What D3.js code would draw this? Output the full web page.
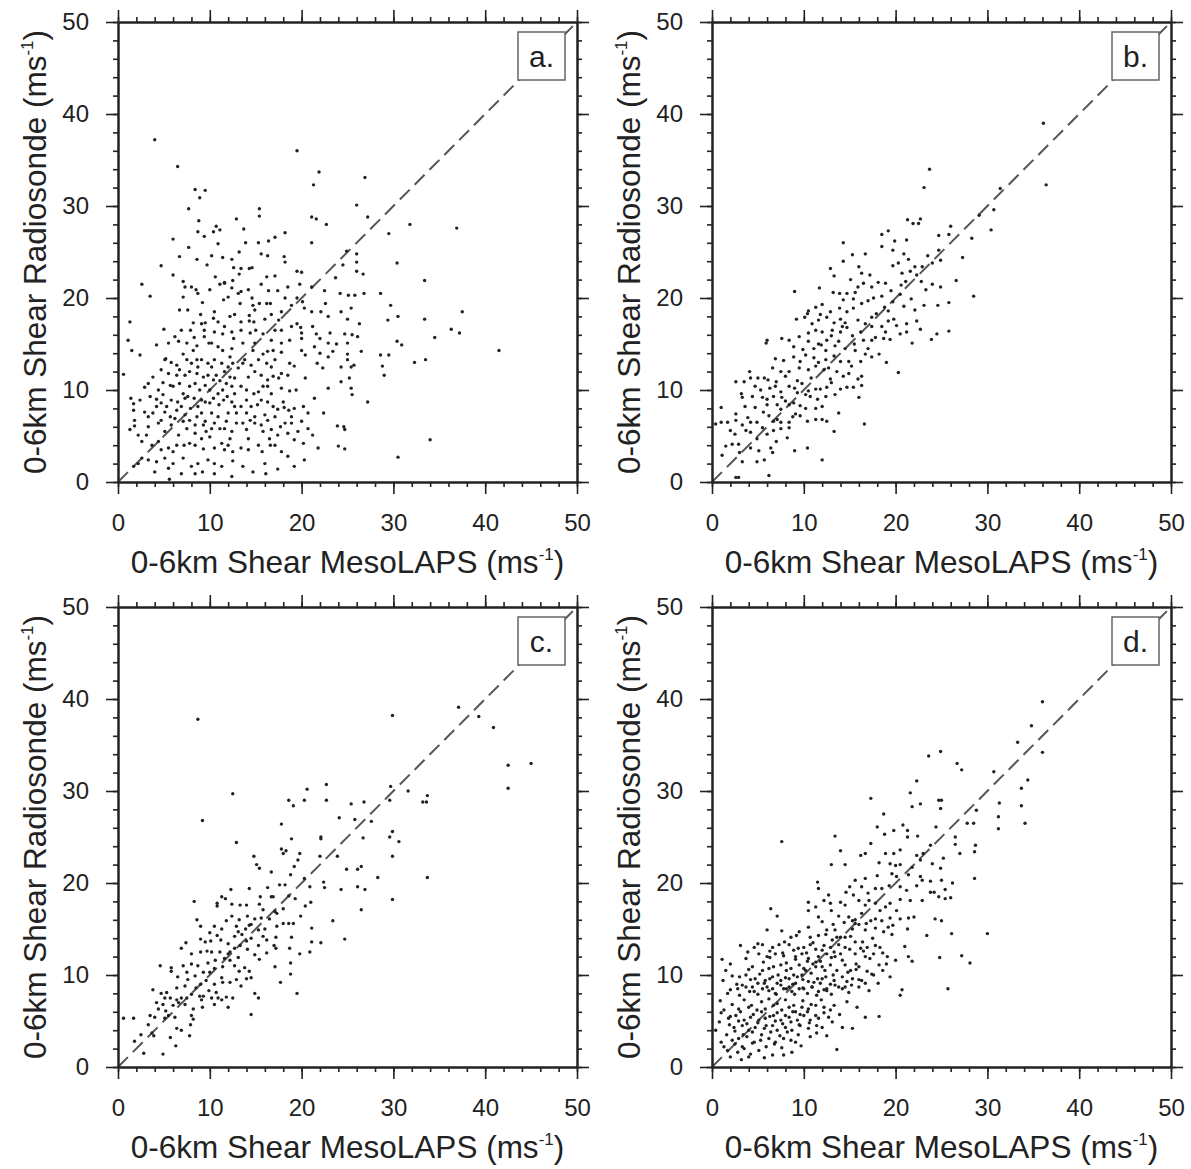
<!DOCTYPE html>
<html><head><meta charset="utf-8">
<script src="https://cdn.jsdelivr.net/npm/d3@7"></script>
<style>body{margin:0;background:#fff}</style>
</head><body>
<svg id="chart" width="1191" height="1169"></svg>
<script>
// ---------- data ----------
const panelLabels = ["a.", "b.", "c.", "d."];
const axisDomain = [0, 50];
const majorTicks = [0, 10, 20, 30, 40, 50];
const minorTicks = [0,2,4,6,8,10,12,14,16,18,20,22,24,26,28,30,32,34,36,38,40,42,44,46,48,50];
const xTitle = "0-6km Shear MesoLAPS (ms";
const yTitle = "0-6km Shear Radiosonde (ms";
const unitSup = "-1";
const oneToOne = [[0, 0], [50, 50]];

const panelA = [[4.0,37.2],[19.5,36.0],[6.5,34.3],[21.9,33.7],[26.9,33.1],[21.3,32.3],[8.4,31.8],[9.5,31.7],[8.9,30.9],[26.0,30.1],[7.7,29.7],[15.4,29.7],[15.4,28.9],[21.1,28.8],[21.6,28.6],[8.8,28.4],[12.9,28.6],[27.2,28.8],[22.7,28.0],[31.8,28.0],[36.9,27.6],[13.7,27.5],[8.7,27.2],[9.4,26.7],[10.4,27.2],[10.7,27.8],[11.1,27.4],[18.2,27.1],[29.5,27.0],[6.0,26.4],[10.9,25.9],[13.9,26.0],[15.3,26.0],[16.4,26.2],[17.1,26.6],[21.1,26.0],[7.7,25.5],[6.7,24.5],[10.2,24.6],[11.4,24.4],[12.4,24.2],[13.2,25.0],[15.6,24.8],[16.3,24.6],[18.1,24.5],[18.2,23.9],[24.9,25.1],[26.0,24.8],[26.0,23.9],[4.7,23.5],[8.6,24.2],[9.7,23.6],[12.6,23.3],[13.4,23.2],[14.3,23.2],[14.6,23.3],[19.5,22.9],[20.0,22.8],[24.5,23.6],[26.0,22.9],[26.7,22.6],[30.4,23.8],[6.0,22.5],[10.6,22.3],[11.6,21.7],[12.5,21.9],[13.2,22.6],[16.2,22.3],[17.1,22.4],[23.7,22.2],[33.4,21.9],[2.6,21.5],[7.1,21.8],[7.3,21.2],[8.5,20.9],[8.7,20.5],[11.1,21.5],[11.6,21.6],[15.6,21.5],[16.4,20.8],[17.4,20.8],[16.6,19.4],[19.8,21.5],[22.5,20.8],[24.2,20.5],[25.1,20.3],[25.8,20.3],[26.8,20.5],[28.6,20.5],[3.5,20.2],[7.1,20.1],[9.2,19.5],[11.5,19.8],[13.1,20.5],[13.4,20.7],[14.6,20.0],[14.7,19.2],[15.4,19.4],[16.2,19.4],[18.2,20.0],[18.9,19.2],[19.5,20.0],[20.1,19.6],[20.3,18.9],[22.6,19.4],[24.3,18.5],[25.4,18.9],[29.7,19.2],[37.5,18.5],[30.5,18.0],[6.7,18.7],[7.6,18.7],[9.0,18.2],[10.5,18.5],[10.4,17.8],[12.2,18.0],[12.7,18.2],[14.3,18.1],[16.0,17.7],[16.7,18.2],[22.1,18.5],[1.3,17.4],[5.0,16.6],[8.2,17.3],[9.5,17.3],[13.4,17.4],[14.3,17.5],[14.8,17.4],[17.5,17.6],[17.8,16.5],[19.5,17.2],[19.9,16.8],[25.0,17.7],[26.3,17.2],[29.4,17.6],[33.4,17.7],[36.3,16.6],[37.2,16.2],[1.1,15.4],[1.5,14.3],[4.2,14.9],[5.5,15.1],[6.6,15.3],[7.9,16.5],[8.3,15.7],[8.6,14.8],[9.4,16.5],[9.4,15.8],[9.9,15.1],[10.5,16.3],[11.4,16.1],[12.4,16.3],[12.6,15.6],[15.0,16.5],[15.8,16.1],[18.7,15.4],[20.0,15.6],[21.6,16.1],[22.0,15.6],[23.1,16.2],[24.7,16.1],[25.5,16.0],[23.8,15.0],[30.4,15.3],[30.9,14.9],[34.5,15.7],[2.4,13.8],[5.2,13.4],[5.8,13.0],[7.1,13.9],[8.2,14.3],[8.6,13.3],[11.4,14.3],[12.2,13.6],[12.4,14.5],[14.7,14.3],[15.8,13.9],[16.3,14.2],[16.9,14.3],[17.8,14.1],[20.4,13.8],[22.0,14.0],[22.9,13.6],[23.4,14.2],[25.0,13.9],[25.0,13.3],[26.5,14.2],[28.6,13.8],[29.5,13.8],[32.3,13.0],[33.5,13.3],[0.6,11.7],[4.7,12.2],[3.8,11.4],[6.7,12.2],[7.3,11.6],[9.3,11.4],[10.2,12.5],[10.7,11.6],[13.1,12.4],[13.6,12.9],[14.5,12.7],[15.6,11.6],[16.9,11.5],[17.8,11.8],[19.2,12.6],[21.7,12.9],[22.3,12.4],[24.3,12.5],[25.4,12.5],[25.7,12.7],[28.8,12.6],[29.0,11.6],[2.9,10.3],[4.9,10.8],[4.4,10.0],[5.7,10.5],[7.1,9.6],[7.8,10.4],[8.9,10.0],[10.4,11.1],[11.1,11.0],[11.8,10.7],[11.4,10.0],[12.4,10.4],[14.0,10.0],[14.8,9.6],[15.8,10.4],[16.3,10.4],[17.5,11.3],[17.8,10.2],[18.7,9.9],[20.4,11.3],[22.9,10.2],[24.3,10.9],[25.2,11.3],[25.4,10.2],[25.5,9.5],[1.4,9.1],[1.7,8.5],[1.7,7.8],[3.5,9.3],[4.2,9.0],[4.9,9.5],[4.2,8.2],[5.3,8.2],[6.5,8.7],[7.3,9.1],[8.3,9.1],[7.9,8.0],[8.7,8.2],[9.5,8.7],[10.4,9.1],[11.0,8.4],[11.9,9.3],[12.7,8.2],[12.9,7.5],[14.0,8.9],[14.5,8.2],[15.2,8.4],[16.3,8.7],[16.9,8.2],[17.4,7.9],[18.1,8.1],[18.6,7.8],[20.2,8.2],[21.4,9.1],[22.4,7.5],[27.2,8.7],[1.8,6.1],[1.3,5.7],[3.3,7.1],[3.3,6.0],[4.4,6.4],[5.7,7.1],[5.8,6.2],[7.1,6.6],[7.5,5.8],[8.6,7.1],[8.4,6.2],[9.5,6.6],[9.6,5.5],[10.5,6.4],[11.1,5.8],[11.8,6.6],[12.4,5.5],[13.6,6.4],[14.0,5.7],[14.9,6.4],[16.3,6.7],[16.7,5.7],[17.7,6.0],[18.9,6.4],[19.6,5.5],[20.7,5.8],[23.9,6.1],[24.6,6.0],[24.7,5.7],[21.2,5.1],[2.2,5.1],[2.6,4.4],[3.7,4.0],[4.4,4.4],[5.5,3.7],[6.0,3.3],[7.2,4.0],[7.8,4.2],[9.1,4.7],[9.3,3.6],[11.3,4.2],[11.6,3.5],[12.5,3.3],[13.4,3.7],[15.3,4.0],[15.7,3.3],[16.5,4.7],[16.6,4.0],[17.8,3.3],[17.4,5.1],[20.2,4.2],[21.8,3.7],[24.0,3.9],[24.7,3.6],[34.0,4.6],[2.6,2.6],[2.2,2.0],[1.7,1.7],[4.2,2.2],[5.5,1.5],[7.1,2.6],[8.0,1.7],[8.7,2.0],[9.2,1.1],[8.4,0.9],[10.5,2.0],[12.5,2.3],[13.6,1.7],[14.7,1.1],[16.1,0.9],[17.4,1.4],[18.5,2.8],[20.3,2.4],[30.5,2.7],[5.6,0.3],[41.5,14.3],
[5.1,13.3],[6.4,12.7],[7.5,13.3],[8.0,12.9],[9.1,13.3],[8.7,12.5],[9.8,12.9],[10.5,13.3],[11.3,12.9],[12.0,12.5],[12.5,12.9],[13.8,13.3],[15.3,13.3],[16.2,12.9],[16.7,12.5],[17.1,13.3],[18.7,12.9],[5.5,11.8],[6.4,11.6],[7.8,12.0],[8.6,11.8],[9.8,11.6],[11.6,12.0],[12.2,11.4],[12.7,11.3],[14.2,11.4],[14.9,12.0],[16.3,11.1],[18.5,11.6],[3.3,10.7],[6.0,10.4],[6.7,10.7],[8.4,10.7],[9.5,10.5],[10.0,10.0],[10.9,9.6],[12.7,9.6],[13.4,10.4],[15.3,9.8],[16.7,9.6],[19.4,10.0],[2.4,8.9],[4.7,8.6],[5.8,8.9],[6.9,8.2],[7.6,9.3],[9.1,8.9],[10.0,8.6],[11.5,8.9],[12.4,8.7],[13.4,8.2],[15.6,8.9],[18.0,8.7],[19.2,8.0],[2.9,7.6],[3.8,7.5],[5.1,7.6],[6.4,7.8],[7.3,7.3],[9.1,7.5],[10.2,7.5],[10.9,7.1],[12.0,7.5],[14.0,7.5],[14.9,7.1],[16.0,7.3],[17.1,7.1],[18.9,7.1],[20.7,7.5],[1.8,6.7],[4.7,6.7],[6.2,6.9],[7.8,6.7],[9.3,6.2],[10.2,5.8],[11.6,5.8],[12.9,6.4],[14.4,6.7],[15.6,6.2],[18.2,6.4],[20.0,6.6],[3.1,5.1],[5.1,5.5],[6.6,5.1],[8.4,5.3],[10.0,4.9],[12.2,4.7],[14.2,4.7],[15.8,5.5],[18.5,5.3],[4.7,3.5],[6.4,4.0],[8.4,4.0],[10.5,3.7],[12.0,4.0],[14.2,3.5],[17.1,4.0],[19.2,4.6],[3.3,2.4],[5.1,2.6],[6.0,2.0],[9.8,2.4],[11.3,1.7],[16.0,2.0],[19.2,1.7],[4.0,1.1],[6.9,0.9],[10.5,0.9],[12.4,0.6],[8.0,21.2],[10.0,20.9],[12.4,21.1],[14.2,20.9],[18.5,21.2],[21.1,21.2],[12.0,20.1],[13.3,19.4],[14.9,18.7],[17.8,18.5],[21.1,18.5],[22.9,18.0],[9.1,17.2],[10.9,17.4],[11.6,16.9],[13.4,16.5],[14.4,16.2],[17.1,16.5],[18.9,16.9],[20.0,16.2],[21.2,16.9],[6.9,16.5],[6.2,15.8],[7.5,15.1],[10.2,15.1],[10.9,14.7],[13.6,15.1],[14.9,15.1],[16.7,15.4],[17.8,15.1],[20.0,14.3],[21.4,14.7],[22.9,15.1],[25.0,15.1],[26.1,15.8]];

const panelB = [[36.1,39.0],[36.4,32.3],[23.7,34.0],[23.1,32.0],[31.4,31.9],[30.7,29.6],[29.1,29.0],[30.4,27.4],[21.3,28.5],[21.9,28.1],[22.5,28.1],[22.7,28.6],[26.0,27.8],[24.7,26.8],[25.8,26.9],[28.3,26.5],[18.5,26.9],[19.2,27.3],[19.9,26.2],[21.2,26.3],[18.5,25.6],[14.3,26.0],[15.3,24.7],[16.7,24.8],[14.3,24.0],[19.7,25.2],[20.3,23.8],[19.7,23.5],[21.4,24.2],[22.1,23.4],[22.9,23.4],[21.6,22.9],[22.3,22.5],[24.7,25.2],[24.9,24.1],[24.0,23.8],[12.9,23.2],[13.3,22.4],[15.1,22.0],[16.3,22.7],[16.5,21.6],[17.4,21.2],[18.1,21.7],[18.9,21.6],[18.5,20.2],[17.6,20.0],[17.0,19.7],[21.1,21.8],[23.3,20.9],[24.0,21.5],[24.9,21.2],[20.5,20.4],[19.7,19.6],[9.0,20.7],[28.5,20.2],[13.2,20.6],[13.9,20.5],[14.7,20.5],[15.6,20.6],[15.4,19.9],[14.3,19.8],[16.3,19.4],[12.0,19.3],[11.3,19.0],[10.5,18.6],[10.4,18.3],[11.8,18.2],[12.5,17.9],[13.3,17.3],[14.0,17.7],[14.5,17.3],[14.7,18.5],[15.4,18.9],[17.4,17.9],[16.7,17.2],[17.4,16.9],[19.2,18.6],[19.8,17.7],[19.2,17.5],[18.5,16.9],[20.1,17.0],[20.9,19.1],[22.1,18.7],[21.2,17.2],[24.6,19.2],[25.8,19.5],[9.2,17.7],[10.1,17.9],[10.9,17.2],[11.3,16.5],[10.5,16.2],[12.0,16.3],[13.1,16.5],[14.0,16.3],[14.7,16.8],[15.3,15.9],[20.5,16.1],[21.2,16.3],[22.7,16.6],[24.5,16.1],[25.8,16.4],[23.9,15.5],[6.0,15.4],[5.9,15.1],[7.6,15.6],[8.4,15.4],[9.5,15.8],[10.5,15.3],[11.1,14.5],[11.6,15.0],[12.5,15.4],[12.4,14.3],[13.4,14.8],[13.8,15.3],[14.5,14.5],[15.5,15.0],[16.5,15.4],[17.4,15.4],[17.8,15.7],[18.7,15.6],[19.4,15.5],[21.8,15.1],[15.6,14.3],[16.7,13.9],[17.4,13.6],[18.2,13.9],[6.9,13.4],[7.8,13.2],[8.9,13.6],[9.6,13.1],[10.2,13.8],[11.1,13.5],[11.6,13.0],[12.4,13.3],[13.3,13.7],[14.0,13.1],[14.9,13.1],[16.2,13.1],[6.6,12.4],[7.5,12.0],[8.4,12.0],[9.5,12.4],[10.5,12.2],[11.3,12.6],[12.2,12.2],[12.7,12.4],[13.6,12.0],[14.3,11.5],[4.1,12.0],[5.0,11.3],[5.7,11.3],[6.1,11.1],[16.3,11.5],[15.9,11.2],[20.3,11.9],[2.6,10.9],[3.5,10.9],[4.2,11.3],[4.7,10.4],[4.4,9.3],[5.5,9.2],[6.3,10.2],[6.9,10.4],[7.5,9.8],[8.4,10.4],[9.0,10.2],[9.8,10.7],[10.5,9.9],[11.3,10.1],[11.8,10.1],[12.5,10.3],[14.0,10.1],[14.7,10.3],[15.4,10.3],[16.3,10.5],[3.2,9.6],[3.3,9.2],[6.7,9.3],[7.6,9.2],[9.3,9.7],[10.2,9.5],[10.7,9.3],[12.4,9.3],[13.4,9.5],[16.0,9.2],[3.6,8.2],[4.7,8.1],[6.0,8.4],[7.1,8.4],[7.5,7.9],[8.4,8.4],[8.9,8.6],[10.2,8.0],[11.3,8.0],[12.0,8.2],[13.8,7.5],[9.1,7.4],[9.6,7.2],[10.4,6.6],[11.3,6.8],[12.0,6.8],[12.5,6.6],[13.3,5.5],[1.0,8.1],[2.6,7.4],[2.6,6.7],[3.3,6.2],[4.2,6.5],[4.9,6.5],[6.2,7.2],[6.7,6.6],[7.1,6.8],[7.5,6.5],[8.4,6.5],[0.4,6.3],[1.0,6.5],[1.7,6.5],[16.6,6.3],[2.5,5.2],[3.7,5.6],[4.2,5.4],[5.5,5.9],[6.0,5.2],[6.7,5.6],[7.5,5.8],[8.4,5.9],[1.5,3.9],[2.2,4.1],[2.9,4.1],[4.2,3.7],[5.1,3.4],[6.4,3.7],[6.6,3.2],[8.2,4.8],[1.1,2.9],[3.3,2.2],[4.9,2.2],[5.7,2.4],[9.0,3.4],[10.4,3.7],[12.0,2.4],[2.6,0.5],[2.9,0.5],[6.2,0.7],
[11.9,14.9],[13.0,15.9],[14.2,16.9],[15.9,17.6],[16.2,16.3],[17.9,18.3],[18.8,19.0],[19.5,20.8],[20.6,21.4],[22.8,21.8],[23.5,24.6],[20.7,22.7],[17.2,22.5],[15.9,21.2],[13.9,18.9],[12.9,18.5],[11.6,17.6],[9.9,14.4],[8.9,14.7],[10.8,11.3],[12.9,11.2],[9.3,11.0],[8.0,11.5],[7.0,10.9],[5.3,10.0],[6.0,9.0],[8.0,8.8],[9.6,8.3],[11.5,9.0],[3.9,7.0],[5.6,7.6],[8.8,7.1],[2.0,5.6],[4.9,4.7],[7.0,4.4],[3.0,3.2],[14.9,11.8],[15.2,12.6],[13.0,10.8],[17.0,14.5],[18.9,16.3],[21.7,19.9],[23.1,19.2],[22.3,17.5],[26.6,21.9],[27.3,24.4],[20.9,24.8],[16.0,23.4],[11.7,21.1],[19.0,13.0]];

const panelC = [[8.7,37.8],[29.9,38.2],[9.2,26.8],[12.5,29.7],[12.9,24.4],[20.6,30.2],[22.7,30.7],[18.6,29.0],[19.1,28.4],[20.3,29.0],[22.7,29.0],[29.7,30.5],[31.6,30.0],[33.7,29.5],[33.2,28.8],[33.6,28.8],[25.4,28.6],[26.8,28.8],[29.6,29.0],[24.1,27.1],[25.8,26.9],[27.6,26.7],[17.8,26.4],[29.9,25.6],[29.6,25.0],[30.6,24.5],[29.9,22.9],[18.9,24.8],[22.1,25.0],[22.1,24.8],[26.7,24.9],[17.8,23.7],[18.0,23.2],[18.3,23.5],[19.8,23.2],[19.6,22.5],[19.2,21.8],[14.8,22.9],[15.1,22.0],[15.4,21.6],[22.0,22.9],[23.9,22.9],[24.9,21.5],[26.1,21.5],[26.5,21.8],[28.3,20.6],[33.7,20.6],[16.7,21.2],[18.8,20.9],[22.4,20.1],[22.5,19.5],[20.9,19.6],[24.3,19.3],[26.1,19.6],[26.9,19.3],[29.9,18.2],[26.5,17.1],[23.4,15.9],[24.7,13.9],[8.3,18.0],[12.3,19.3],[11.3,18.5],[11.7,18.3],[10.8,17.8],[10.8,17.5],[14.3,19.4],[15.5,18.5],[16.7,18.5],[16.9,18.5],[17.6,19.8],[18.2,19.8],[18.6,18.6],[19.3,18.3],[20.4,17.5],[21.0,17.9],[12.4,17.7],[13.3,17.6],[14.0,17.6],[15.4,17.7],[15.8,17.1],[17.1,16.9],[17.3,16.7],[8.6,16.0],[9.0,15.3],[10.5,15.3],[11.3,15.0],[12.4,16.4],[13.2,16.0],[14.1,16.4],[14.9,16.1],[15.6,16.2],[16.5,16.1],[14.3,15.4],[14.5,15.5],[15.3,14.9],[17.3,15.3],[18.0,15.6],[18.6,15.6],[19.1,15.6],[21.1,15.1],[7.4,13.5],[6.9,12.9],[9.0,13.9],[9.5,13.6],[10.1,13.7],[10.8,14.3],[11.2,13.8],[12.0,13.4],[12.7,14.2],[13.1,14.7],[13.5,14.4],[14.0,13.7],[14.5,14.0],[16.2,13.8],[17.2,14.1],[18.9,14.1],[21.1,13.6],[22.1,13.5],[8.0,12.3],[9.0,12.5],[9.7,12.6],[10.2,12.5],[11.1,12.5],[12.0,12.3],[12.2,12.5],[12.7,12.9],[13.3,13.2],[14.1,12.8],[15.3,13.2],[14.9,12.2],[15.4,11.7],[17.0,13.2],[17.2,12.9],[18.7,12.9],[19.8,12.3],[20.9,12.5],[4.6,11.0],[5.8,10.8],[5.8,10.4],[7.1,11.0],[7.5,10.3],[8.0,11.2],[8.7,11.0],[9.8,11.3],[10.0,10.3],[10.5,10.7],[11.4,10.9],[12.2,11.6],[12.7,11.0],[13.2,10.4],[13.8,10.8],[14.3,10.4],[17.1,10.9],[18.8,11.3],[18.8,10.1],[17.7,9.2],[7.6,9.5],[8.4,9.9],[9.0,9.0],[9.6,9.4],[10.5,9.0],[11.3,9.7],[11.4,9.2],[12.2,9.2],[12.9,9.5],[13.4,8.8],[14.0,9.6],[14.5,9.7],[3.8,8.4],[4.7,8.0],[5.3,8.1],[6.4,8.6],[7.3,8.8],[5.1,7.5],[5.7,7.5],[6.4,7.3],[6.9,7.5],[7.5,7.5],[8.0,7.9],[8.9,7.7],[9.1,7.3],[9.3,7.7],[10.2,7.5],[10.7,8.1],[10.9,7.5],[11.3,7.3],[11.8,7.6],[12.5,7.5],[14.9,8.0],[15.3,7.5],[19.5,8.0],[4.2,7.0],[4.9,6.8],[4.4,6.3],[6.0,6.7],[6.6,7.0],[7.3,6.8],[8.2,6.3],[9.2,6.5],[10.5,6.8],[12.0,6.5],[0.6,5.3],[1.7,5.3],[3.5,5.6],[4.0,5.4],[5.1,5.3],[5.5,5.6],[6.2,5.4],[8.0,5.6],[8.2,5.2],[14.5,5.7],[3.3,4.6],[3.7,3.7],[6.4,4.2],[6.9,4.0],[7.9,4.6],[7.8,3.4],[5.7,3.2],[1.8,2.8],[2.8,1.5],[4.9,1.4],[6.3,2.3],[3.9,3.4],[37.1,39.1],[39.3,38.1],[40.9,36.9],[42.5,32.8],[45.0,33.0],[42.5,30.3],
[10.0,14.6],[11.8,15.9],[12.9,15.3],[13.9,15.0],[16.0,15.0],[15.8,14.2],[11.6,11.8],[10.6,11.6],[9.3,10.3],[8.5,8.6],[9.9,8.3],[6.5,9.8],[5.2,6.1],[2.5,3.5],[16.3,19.5],[18.0,17.2],[19.9,16.4],[20.3,20.5],[13.1,11.9],[16.2,12.4]];

const panelD = [[36.0,39.7],[34.8,37.1],[33.3,35.3],[36.0,34.2],[24.9,34.3],[23.6,33.8],[26.7,33.0],[27.2,32.3],[30.7,32.1],[22.3,31.1],[34.4,31.2],[33.7,30.3],[21.6,29.8],[21.8,28.3],[22.7,28.6],[24.7,29.0],[25.0,29.0],[24.9,28.1],[17.3,29.2],[31.3,28.7],[33.7,28.4],[31.2,27.2],[34.1,26.5],[31.2,25.9],[18.7,27.5],[28.8,27.9],[27.8,26.5],[28.5,26.5],[18.0,26.1],[18.8,25.3],[19.8,25.7],[20.8,26.3],[21.3,25.7],[21.3,25.0],[22.4,25.1],[24.4,26.1],[7.6,24.5],[13.4,25.1],[17.3,24.3],[16.7,23.2],[16.2,23.0],[14.0,23.5],[13.0,22.0],[14.5,22.0],[23.8,24.1],[26.5,25.0],[26.5,24.2],[27.0,23.2],[28.7,24.1],[28.6,23.4],[18.9,23.2],[19.8,23.2],[20.5,23.6],[19.4,22.1],[20.0,21.9],[20.5,22.0],[18.2,22.2],[22.3,23.0],[23.0,23.2],[22.7,22.5],[25.2,22.7],[24.0,22.1],[24.9,21.6],[20.1,20.7],[21.4,20.9],[22.7,20.7],[22.9,20.3],[23.8,20.2],[25.0,20.3],[25.4,19.3],[28.6,20.5],[11.5,20.1],[11.6,19.4],[15.6,20.3],[16.3,19.6],[14.6,19.0],[15.4,18.7],[17.8,19.4],[18.5,19.4],[19.3,19.7],[21.2,19.2],[20.5,18.2],[21.6,18.1],[22.9,18.1],[23.8,19.0],[24.2,19.0],[24.7,18.5],[25.4,18.3],[10.5,17.9],[11.3,17.4],[10.5,17.0],[12.2,18.1],[12.9,17.8],[14.0,17.9],[14.5,17.6],[16.0,18.1],[16.7,17.6],[17.1,18.1],[17.8,17.8],[18.3,17.0],[18.9,17.4],[19.4,17.8],[20.1,17.0],[19.4,16.2],[6.4,17.2],[7.1,16.4],[11.6,16.3],[13.0,17.0],[13.8,16.4],[14.9,16.3],[15.6,16.0],[16.3,16.7],[17.3,15.9],[17.8,16.1],[15.3,15.9],[15.6,15.6],[20.5,16.1],[21.4,16.2],[22.0,16.3],[24.3,16.1],[25.0,15.9],[23.4,14.3],[26.1,14.5],[30.0,14.5],[6.0,14.9],[7.6,14.8],[8.6,14.1],[9.5,14.7],[10.5,15.2],[10.7,14.1],[11.6,14.3],[12.5,14.9],[13.4,14.9],[13.6,14.1],[14.0,14.1],[14.5,14.1],[15.3,15.0],[16.0,15.5],[16.7,14.9],[17.8,15.1],[18.7,14.7],[19.2,15.2],[3.1,13.2],[4.6,13.0],[5.5,13.3],[6.6,13.0],[7.3,13.3],[8.4,13.3],[8.9,12.7],[10.0,13.0],[10.7,13.3],[11.3,12.8],[12.2,13.2],[12.9,13.0],[13.8,13.3],[14.5,13.0],[15.6,13.6],[16.2,12.9],[16.9,13.0],[17.8,13.2],[18.3,13.0],[5.1,12.3],[6.0,12.0],[6.9,12.3],[7.8,12.1],[9.1,12.0],[9.8,12.3],[10.5,11.8],[11.6,12.0],[12.5,12.3],[13.4,12.0],[14.0,12.3],[15.6,12.3],[16.7,12.0],[17.6,12.3],[19.1,12.0],[20.0,11.6],[21.4,12.0],[27.2,12.1],[1.1,11.7],[4.4,10.9],[5.5,10.5],[6.7,10.9],[7.5,11.1],[8.6,10.7],[9.5,11.1],[10.2,10.5],[11.0,11.2],[11.3,10.9],[11.3,11.4],[12.0,10.9],[12.9,11.1],[13.6,10.5],[14.5,11.1],[15.1,10.5],[16.0,10.9],[16.9,10.4],[18.2,11.1],[28.1,11.3],[2.2,9.9],[3.7,10.0],[4.7,9.6],[5.8,9.4],[6.6,9.8],[7.5,9.4],[8.4,9.6],[9.3,9.8],[9.8,10.0],[10.5,9.3],[11.5,9.6],[12.4,9.8],[13.3,9.4],[14.2,9.8],[15.3,9.6],[16.3,9.4],[17.6,10.0],[19.4,9.8],[3.3,8.9],[4.4,8.7],[5.7,9.1],[6.6,8.5],[7.5,8.9],[8.4,8.7],[9.1,9.1],[10.0,8.5],[10.9,8.7],[11.8,9.1],[12.5,8.5],[13.4,8.9],[14.5,8.7],[15.2,8.9],[16.7,9.1],[20.7,8.4],[25.7,8.5],[1.7,8.0],[2.8,8.5],[3.7,8.7],[4.6,8.2],[5.5,8.5],[6.2,8.3],[6.9,8.0],[7.8,8.5],[8.7,8.2],[9.5,8.5],[10.4,8.0],[10.9,8.7],[11.6,8.2],[12.5,8.3],[13.8,8.7],[14.2,8.5],[16.0,8.7],[20.5,7.8],[1.3,6.2],[2.9,6.3],[4.0,6.5],[4.9,6.2],[5.8,6.3],[6.7,6.7],[7.6,6.2],[8.4,6.5],[9.1,6.0],[9.8,6.5],[10.5,6.3],[11.3,6.7],[12.2,6.5],[12.9,6.2],[15.8,6.5],[1.8,5.3],[2.6,5.6],[3.5,5.1],[4.2,5.4],[5.1,5.1],[5.8,5.3],[6.7,5.6],[7.5,5.1],[8.4,5.4],[9.3,5.1],[10.0,5.6],[10.7,5.1],[11.6,5.3],[12.7,5.4],[16.7,5.4],[18.2,5.5],[0.4,4.0],[2.4,4.3],[3.3,4.5],[4.0,4.0],[4.7,4.3],[5.7,4.2],[6.6,4.5],[7.1,4.0],[8.0,4.3],[8.7,4.0],[9.6,4.5],[10.5,4.2],[12.0,4.3],[14.2,4.3],[15.3,4.2],[1.0,2.7],[2.2,2.9],[2.9,3.1],[3.8,3.3],[4.6,2.7],[5.3,2.9],[6.2,3.1],[6.9,2.7],[7.8,3.1],[8.6,2.9],[9.1,2.7],[10.7,3.3],[2.8,1.6],[3.5,2.0],[4.2,1.4],[5.1,1.8],[7.8,1.3],[8.7,1.6],[13.6,1.9],[4.0,1.1],[1.7,1.8],
[7.9,13.6],[9.2,14.3],[11.0,13.5],[12.4,14.4],[13.1,13.8],[15.1,14.2],[16.4,13.6],[17.5,14.0],[19.6,14.4],[3.9,12.5],[5.0,13.4],[6.3,12.6],[7.7,12.4],[9.4,12.9],[10.3,12.4],[12.0,12.7],[13.3,12.5],[15.0,12.8],[16.5,12.6],[18.6,12.4],[21.0,13.1],[2.0,11.2],[3.7,11.8],[5.6,11.4],[6.3,11.9],[8.1,11.3],[9.1,11.7],[10.4,11.5],[11.8,11.5],[13.0,11.9],[14.2,11.6],[15.7,11.2],[17.2,11.8],[19.0,11.2],[21.8,11.5],[24.8,11.9],[1.5,10.5],[3.0,9.8],[4.0,10.6],[5.2,10.1],[6.2,10.7],[7.2,10.0],[8.1,10.5],[8.9,10.0],[10.0,10.7],[10.8,10.2],[12.3,10.5],[13.2,10.0],[14.8,10.3],[15.7,10.6],[17.4,10.1],[18.6,10.5],[1.2,9.4],[2.7,9.0],[4.2,9.5],[5.0,9.1],[6.3,9.6],[7.1,9.1],[8.0,9.7],[8.8,9.0],[9.9,9.5],[11.1,9.2],[12.0,9.6],[12.9,9.0],[14.7,9.3],[16.0,9.5],[18.1,9.1],[2.0,8.4],[3.0,7.8],[4.1,8.2],[5.0,7.9],[6.0,8.7],[7.0,7.9],[8.1,8.5],[9.0,7.9],[9.9,8.6],[11.4,7.8],[12.2,8.4],[13.0,7.9],[14.9,8.1],[17.1,8.3],[0.9,7.2],[2.2,6.8],[3.5,7.3],[4.3,6.7],[5.4,7.1],[6.2,7.4],[7.1,6.9],[8.0,7.3],[8.9,6.7],[9.9,7.2],[10.8,6.8],[11.9,7.3],[13.3,6.7],[14.7,7.1],[1.0,5.9],[2.0,5.5],[3.1,6.0],[4.5,5.7],[5.4,6.0],[6.3,5.5],[7.1,5.9],[8.0,5.6],[8.8,6.0],[9.6,5.7],[10.4,6.0],[11.3,5.6],[12.2,5.9],[13.9,5.7],[0.8,4.9],[1.9,4.6],[2.9,5.0],[3.8,4.7],[5.0,4.8],[5.9,4.5],[6.9,5.0],[7.7,4.7],[8.6,4.9],[9.5,4.6],[10.6,4.8],[11.4,4.5],[13.1,4.9],[1.6,3.5],[2.5,3.9],[3.4,3.5],[4.4,3.8],[5.4,3.5],[6.4,3.8],[7.4,3.4],[8.2,3.8],[9.4,3.5],[11.4,3.7],[12.5,3.4],[1.3,2.2],[2.5,2.5],[3.3,2.2],[4.4,2.6],[5.9,2.2],[6.8,2.5],[7.6,2.1],[9.7,2.3],[2.0,1.1],[3.2,0.8],[5.7,1.0],[6.6,1.3],[12.0,15.8],[13.2,15.5],[14.4,15.7],[16.8,15.6],[18.5,15.9],[19.7,15.4],[21.3,15.0],[12.7,18.7],[15.0,19.6],[16.7,20.5],[18.0,20.8],[19.6,21.0],[21.8,21.7],[17.0,18.9],[20.5,19.6],[22.3,19.7],[26.2,20.0],[26.0,18.4]];

const panels = [panelA, panelB, panelC, panelD];

// ---------- layout ----------
const W = 459, H = 460;
const origins = [[118, 22], [712, 22], [118, 607], [712, 607]];
const FONT = "'Liberation Sans', Arial, Helvetica, sans-serif";
const INK = "#222";

const svg = d3.select("#chart");
svg.append("rect").attr("width", 1191).attr("height", 1169).attr("fill", "#fff");

panels.forEach((data, i) => {
  const [ox, oy] = origins[i];
  const g = svg.append("g").attr("transform", `translate(${ox},${oy})`);
  const x = d3.scaleLinear().domain(axisDomain).range([0, W]);
  const y = d3.scaleLinear().domain(axisDomain).range([H, 0]);

  // 1:1 dashed line
  g.append("path")
    .datum(oneToOne)
    .attr("d", d3.line().x(d => x(d[0])).y(d => y(d[1])))
    .attr("fill", "none").attr("stroke", "#555")
    .attr("stroke-width", 2).attr("stroke-dasharray", "14,7");

  // points
  g.append("g").selectAll("circle").data(data).join("circle")
    .attr("cx", d => x(d[0])).attr("cy", d => y(d[1]))
    .attr("r", 1.7).attr("fill", "#222");

  // label box
  const bw = 47, bh = 48;
  const lb = g.append("g").attr("transform", `translate(${W - 12 - bw},${10})`);
  lb.append("rect").attr("width", bw).attr("height", bh)
    .attr("fill", "#fff").attr("stroke", "#666").attr("stroke-width", 1.5);
  lb.append("text").attr("x", bw / 2).attr("y", bh / 2).attr("dy", "0.36em")
    .attr("text-anchor", "middle").attr("font-family", FONT).attr("font-size", 30)
    .attr("fill", INK).text(panelLabels[i]);

  // axes
  const styleAxis = sel => {
    sel.selectAll(".domain").attr("stroke", INK).attr("stroke-width", 2);
    sel.selectAll(".tick line").attr("stroke", INK).attr("stroke-width", 1.6);
    sel.selectAll(".tick text").attr("fill", INK).attr("font-family", FONT).attr("font-size", 24);
  };
  const noLab = () => "";
  g.append("g").attr("transform", `translate(0,${H})`)
    .call(d3.axisBottom(x).tickValues(minorTicks).tickSize(5).tickSizeOuter(0).tickFormat(noLab)).call(styleAxis);
  g.append("g")
    .call(d3.axisTop(x).tickValues(minorTicks).tickSize(5).tickSizeOuter(0).tickFormat(noLab)).call(styleAxis);
  g.append("g")
    .call(d3.axisLeft(y).tickValues(minorTicks).tickSize(5).tickSizeOuter(0).tickFormat(noLab)).call(styleAxis);
  g.append("g").attr("transform", `translate(${W},0)`)
    .call(d3.axisRight(y).tickValues(minorTicks).tickSize(5).tickSizeOuter(0).tickFormat(noLab)).call(styleAxis);
  g.append("g").attr("transform", `translate(0,${H})`)
    .call(d3.axisBottom(x).tickValues(majorTicks).tickSize(12).tickSizeOuter(0).tickPadding(20).tickFormat(d3.format("d"))).call(styleAxis);
  g.append("g")
    .call(d3.axisTop(x).tickValues(majorTicks).tickSize(12).tickSizeOuter(0).tickFormat(noLab)).call(styleAxis);
  g.append("g")
    .call(d3.axisLeft(y).tickValues(majorTicks).tickSize(12).tickSizeOuter(0).tickPadding(17).tickFormat(d3.format("d"))).call(styleAxis);
  g.append("g").attr("transform", `translate(${W},0)`)
    .call(d3.axisRight(y).tickValues(majorTicks).tickSize(12).tickSizeOuter(0).tickFormat(noLab)).call(styleAxis);

  // titles
  const addTitle = (sel, main) => {
    sel.attr("text-anchor", "middle").attr("font-family", FONT).attr("font-size", 31.5).attr("fill", INK);
    sel.append("tspan").text(main);
    sel.append("tspan").attr("font-size", 17).attr("dy", -13).text(unitSup);
    sel.append("tspan").attr("dy", 13).text(")");
  };
  g.append("text").attr("x", W / 2).attr("y", H + 91).call(addTitle, xTitle);
  g.append("text").attr("transform", `translate(-72,${H / 2}) rotate(-90)`).call(addTitle, yTitle);
});
</script>
</body></html>
